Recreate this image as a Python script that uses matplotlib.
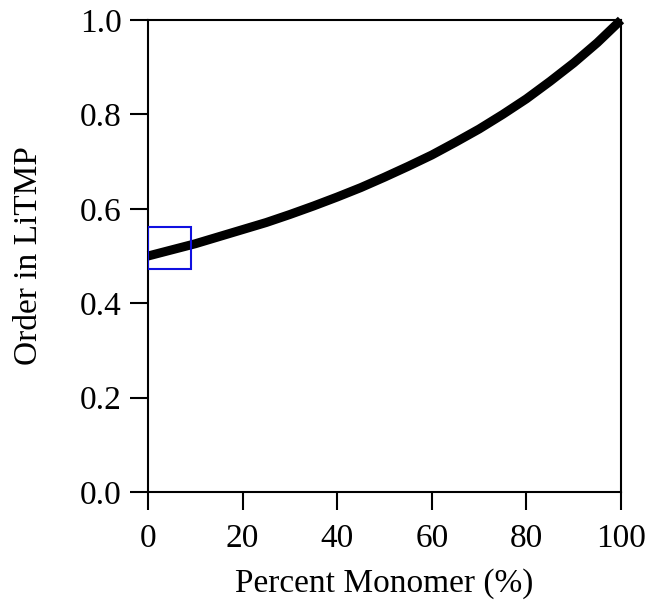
import matplotlib
matplotlib.use('Agg')
from matplotlib import pyplot as plt
from matplotlib.patches import Rectangle

# curve
monomer_pct = [0, 5, 10, 15, 20, 25, 30, 35, 40, 45, 50,
               55, 60, 65, 70, 75, 80, 85, 90, 95, 100]
order_litmp = [0.500, 0.513, 0.526, 0.541, 0.556, 0.571, 0.588, 0.606, 0.625, 0.645, 0.667,
               0.690, 0.714, 0.741, 0.769, 0.800, 0.833, 0.870, 0.909, 0.952, 1.000]

# highlighted box (x0, y0, width, height)
box = (0.0, 0.472, 9.1, 0.089)

x_ticks = [0, 20, 40, 60, 80, 100]
y_ticks = [0.0, 0.2, 0.4, 0.6, 0.8, 1.0]

plt.rcParams['font.family'] = ['Liberation Serif', 'DejaVu Serif']

fig = plt.figure(figsize=(6.5, 6.1), dpi=100)
ax = fig.add_axes([0.2277, 0.1934, 0.7277, 0.7738])

ax.plot(monomer_pct, order_litmp, color='black', linewidth=6.5, solid_capstyle='butt',
        solid_joinstyle='round', clip_on=False)
ax.add_patch(Rectangle((box[0], box[1]), box[2], box[3], fill=False, edgecolor='#1010e0',
                       linewidth=1.5, zorder=5))

ax.set_xlim(0, 100)
ax.set_ylim(0, 1.0)
ax.set_xticks(x_ticks)
ax.set_yticks(y_ticks)
ax.set_yticklabels(['%.1f' % v for v in y_ticks])
ax.tick_params(direction='out', length=13, width=1.5, labelsize=24, pad=6)
ax.tick_params(axis='x', pad=10)
for s in ax.spines.values():
    s.set_linewidth(1.5)

ax.set_xlabel('Percent Monomer (%)', fontsize=24, labelpad=10)
ax.set_ylabel('Order in LiTMP', fontsize=24, labelpad=26)

fig.savefig('out.png', dpi=100)
